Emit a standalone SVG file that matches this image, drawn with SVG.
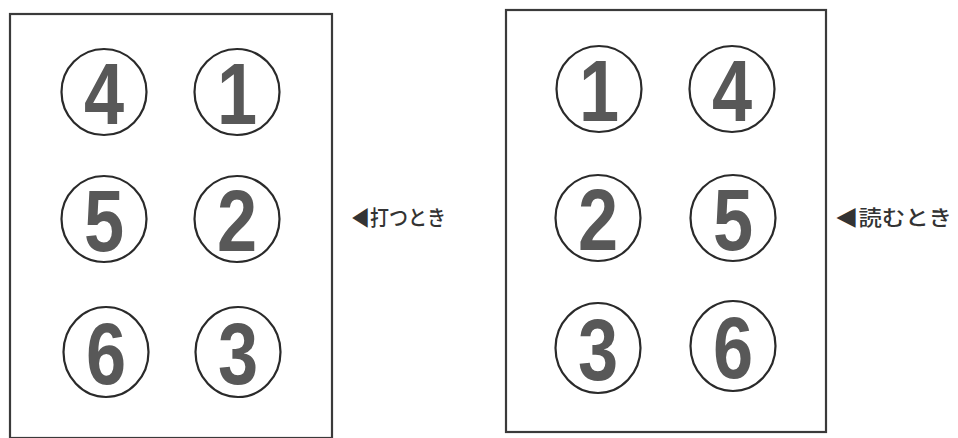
<svg xmlns="http://www.w3.org/2000/svg" width="958" height="438" viewBox="0 0 958 438">
<style>
.box{fill:none;stroke:#3a3a3a;stroke-width:2.2}
.c{fill:#fff;stroke:#2a2a2a;stroke-width:2.2}
.d{font-family:"Liberation Sans",Arial,sans-serif;font-weight:bold;font-size:88px;fill:#585858;text-anchor:middle}
.lab{font-family:"Noto Sans CJK JP","Noto Sans",sans-serif;font-size:21px;fill:#333;font-weight:500}
</style>
<rect width="958" height="438" fill="#fff"/>
<g id="left-panel">
<rect class="box" x="10" y="14" width="322" height="424"/>
<g id="L4"><ellipse class="c" cx="104" cy="92" rx="42.5" ry="43"/><text class="d" transform="translate(104,124) scale(0.82,1)">4</text></g>
<g id="L1"><ellipse class="c" cx="237" cy="92" rx="42.5" ry="43"/><text class="d" transform="translate(237,124) scale(0.82,1)">1</text></g>
<g id="L5"><ellipse class="c" cx="104" cy="219" rx="42.5" ry="43"/><text class="d" transform="translate(104,251) scale(0.82,1)">5</text></g>
<g id="L2"><ellipse class="c" cx="237" cy="219" rx="42.5" ry="43"/><text class="d" transform="translate(237,251) scale(0.82,1)">2</text></g>
<g id="L6"><ellipse class="c" cx="106" cy="352" rx="42.5" ry="45"/><text class="d" transform="translate(106,384) scale(0.82,1)">6</text></g>
<g id="L3"><ellipse class="c" cx="238" cy="352" rx="42.5" ry="45"/><text class="d" transform="translate(238,384) scale(0.82,1)">3</text></g>
</g>
<g id="label-left"><text class="lab" x="351" y="225" textLength="95" lengthAdjust="spacingAndGlyphs">◀打つとき</text></g>
<g id="right-panel">
<rect class="box" x="506" y="10" width="320" height="422"/>
<g id="R1"><ellipse class="c" cx="599" cy="89" rx="42.5" ry="43"/><text class="d" transform="translate(599,121) scale(0.82,1)">1</text></g>
<g id="R4"><ellipse class="c" cx="732" cy="89" rx="42.5" ry="43"/><text class="d" transform="translate(732,121) scale(0.82,1)">4</text></g>
<g id="R2"><ellipse class="c" cx="598" cy="218" rx="42.5" ry="43"/><text class="d" transform="translate(598,250) scale(0.82,1)">2</text></g>
<g id="R5"><ellipse class="c" cx="733" cy="218" rx="42.5" ry="43"/><text class="d" transform="translate(733,250) scale(0.82,1)">5</text></g>
<g id="R3"><ellipse class="c" cx="598" cy="348" rx="42.5" ry="45"/><text class="d" transform="translate(598,380) scale(0.82,1)">3</text></g>
<g id="R6"><ellipse class="c" cx="733" cy="346" rx="42.5" ry="45"/><text class="d" transform="translate(733,378) scale(0.82,1)">6</text></g>
</g>
<g id="label-right"><text class="lab" x="835" y="225" textLength="117" lengthAdjust="spacingAndGlyphs">◀読むとき</text></g>
</svg>
